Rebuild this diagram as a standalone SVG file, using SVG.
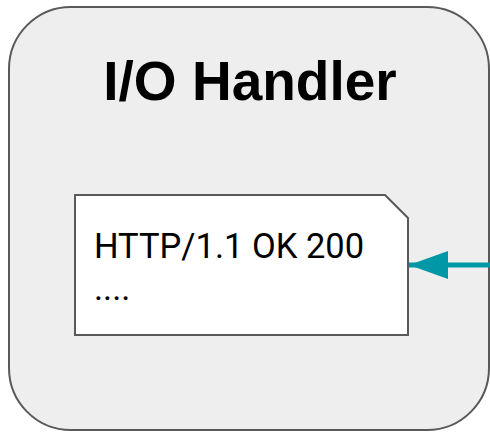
<svg xmlns="http://www.w3.org/2000/svg" width="490" height="432" viewBox="0 0 490 432">
  <style>
    .frame { fill: #eeeeee; stroke: #595959; stroke-width: 2; }
    .doc { fill: #ffffff; stroke: #595959; stroke-width: 2; }
    .title { font-family: "Liberation Sans", Arial, sans-serif; font-weight: bold; font-size: 55px; fill: #000000; }
    .body { font-family: Roboto, "Liberation Sans", sans-serif; font-size: 34.5px; fill: #000000; }
    .link { stroke: #0097a7; stroke-width: 5; fill: none; }
  </style>
  <defs>
    <marker id="arrowhead" markerUnits="userSpaceOnUse" markerWidth="40" markerHeight="30" refX="39" refY="14" orient="auto">
      <path d="M0,0 L39,14 L0,28 Z" fill="#0097a7"/>
    </marker>
  </defs>

  <g id="io-handler">
    <rect class="frame" x="9" y="7" width="480" height="423" rx="62" ry="62"/>
    <text class="title" x="250" y="100" text-anchor="middle">I/O Handler</text>
  </g>

  <g id="response">
    <path class="doc" d="M75,195 L385,195 L408,218 L408,335 L75,335 Z"/>
    <text class="body" x="94" y="258">HTTP/1.1 OK 200</text>
    <text class="body" x="94" y="300">....</text>
  </g>

  <g id="connectors">
    <line class="link" x1="492" y1="265" x2="409" y2="265" marker-end="url(#arrowhead)"/>
  </g>
</svg>
